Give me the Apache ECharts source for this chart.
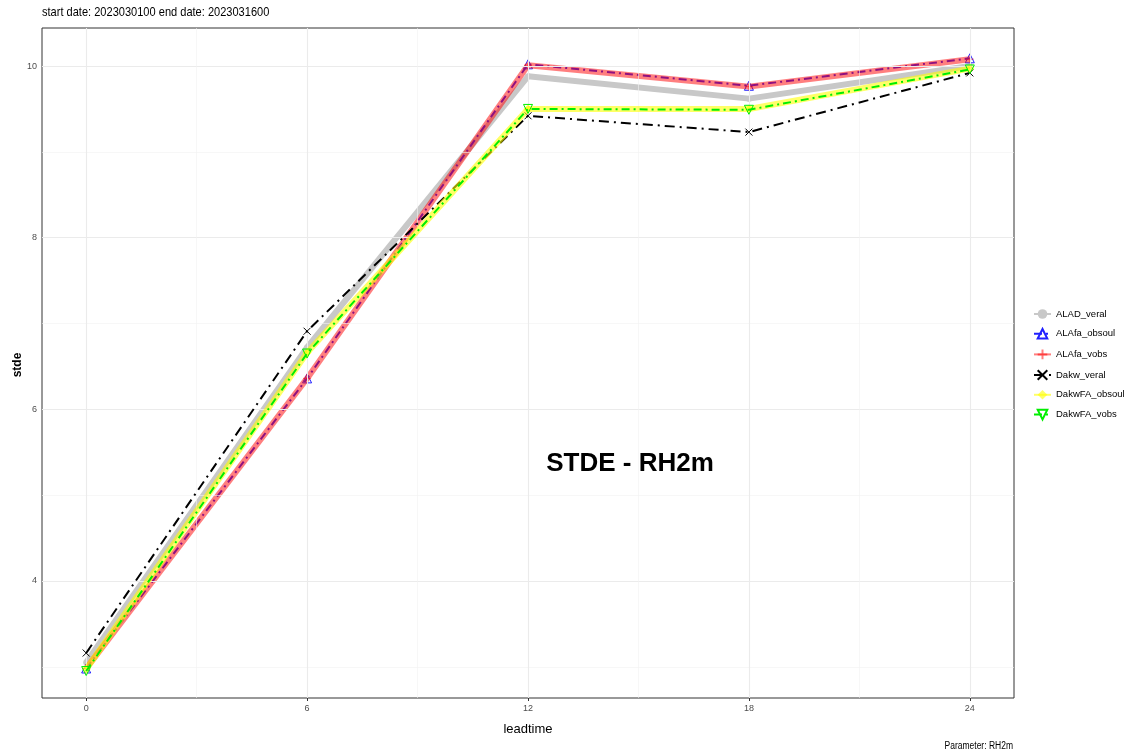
<!DOCTYPE html>
<html><head><meta charset="utf-8">
<script src="https://cdn.jsdelivr.net/npm/echarts@6/dist/echarts.min.js"></script>
<style>html,body{margin:0;padding:0;background:#fff}#c{width:1128px;height:754px}</style>
</head><body><div id="c"></div>
<script>
const leadtimes = [0, 6, 12, 18, 24];
const ALAD_veral    = [3.05, 6.72, 9.88, 9.62, 10.00];
const ALAfa_obsoul  = [2.98, 6.36, 10.02, 9.77, 10.09];
const ALAfa_vobs    = [2.98, 6.36, 10.01, 9.76, 10.08];
const Dakw_veral    = [3.16, 6.91, 9.42, 9.23, 9.92];
const DakwFA_obsoul = [2.97, 6.66, 9.50, 9.50, 9.97];
const DakwFA_vobs   = [2.95, 6.65, 9.50, 9.49, 9.96];
const xTicks = [0, 6, 12, 18, 24];
const yTicks = [4, 6, 8, 10];
const xMinor = [3, 9, 15, 21];
const yMinor = [3, 5, 7, 9];
const subtitle = 'start date: 2023030100 end date: 2023031600';
const plotTitle = 'STDE - RH2m';
const caption = 'Parameter: RH2m';
const yName = 'stde';

const FONT = '"Liberation Sans",Arial,sans-serif';
const pts = a => leadtimes.map((x, i) => [x, a[i]]);
const crossPath = 'path://M0,0L10,10M10,0L0,10';
const plusPath = 'path://M5,0L5,10M0,5L10,5';

const gridLines = [];
yTicks.forEach(v => gridLines.push({yAxis: v, lineStyle: {color: '#ebebeb', width: 1.1, type: 'solid'}}));
yMinor.forEach(v => gridLines.push({yAxis: v, lineStyle: {color: '#f2f2f2', width: 0.6, type: 'solid'}}));
xTicks.forEach(v => gridLines.push({xAxis: v, lineStyle: {color: '#ebebeb', width: 1.1, type: 'solid'}}));
xMinor.forEach(v => gridLines.push({xAxis: v, lineStyle: {color: '#f2f2f2', width: 0.6, type: 'solid'}}));

const chart = echarts.init(document.getElementById('c'), null, {renderer: 'canvas'});
chart.setOption({
  animation: false,
  backgroundColor: '#fff',
  textStyle: {fontFamily: FONT},
  grid: {left: 42, right: 114, top: 28, bottom: 56, containLabel: false, outerBoundsMode: 'none',
         show: true, borderColor: '#333', borderWidth: 1, backgroundColor: '#fff'},
  xAxis: {
    type: 'value', min: -1.2, max: 25.2,
    name: 'leadtime', nameLocation: 'middle', nameGap: 25,
    nameTextStyle: {fontFamily: FONT, fontSize: 13, color: '#000'},
    axisLine: {show: false},
    axisTick: {show: true, customValues: xTicks, length: 3, lineStyle: {color: '#333'}},
    axisLabel: {customValues: xTicks, fontFamily: FONT, fontSize: 9, color: '#4d4d4d', margin: 6},
    splitLine: {show: false}
  },
  yAxis: {
    type: 'value', min: 2.636, max: 10.443,
    axisLine: {show: false},
    axisTick: {show: true, customValues: yTicks, length: 3, lineStyle: {color: '#333'}},
    axisLabel: {customValues: yTicks, fontFamily: FONT, fontSize: 9, color: '#4d4d4d', margin: 5},
    splitLine: {show: false}
  },
  legend: {
    orient: 'vertical', left: 1028, top: 304, itemGap: 9, itemWidth: 17, itemHeight: 12,
    textStyle: {fontFamily: FONT, fontSize: 9.5, color: '#000'},
    data: ['ALAD_veral', 'ALAfa_obsoul', 'ALAfa_vobs', 'Dakw_veral', 'DakwFA_obsoul', 'DakwFA_vobs']
  },
  graphic: [
    {type: 'text', left: 42, top: 6, scaleX: 0.85, style: {text: subtitle, font: '13px ' + FONT, fill: '#000'}},
    {type: 'text', x: 1013, y: 741, scaleX: 0.85, style: {text: caption, font: '10px ' + FONT, fill: '#000', align: 'right'}},
    {type: 'text', x: 18, y: 365, rotation: Math.PI / 2, style: {text: yName, font: 'bold 12px ' + FONT, fill: '#000', align: 'center', verticalAlign: 'middle'}},
    {type: 'text', x: 630, y: 464, style: {text: plotTitle, font: 'bold 26px "Liberation Sans",Arial,sans-serif', fill: '#000', align: 'center', verticalAlign: 'middle'}}
  ],
  series: [
    {type: 'line', name: '_grid', data: [], silent: true, z: 1,
     markLine: {silent: true, symbol: 'none', label: {show: false}, animation: false, data: gridLines}},
    {type: 'line', name: 'ALAD_veral', data: pts(ALAD_veral), z: 2,
     lineStyle: {color: '#c8c8c8', width: 6}, symbol: 'circle', symbolSize: 6,
     itemStyle: {color: '#c8c8c8'}},
    {type: 'line', name: 'ALAfa_obsoul', data: pts(ALAfa_obsoul), z: 3,
     lineStyle: {color: '#2020ff', width: 2, type: [8, 4, 2, 4]}, symbol: 'triangle', symbolSize: 9,
     itemStyle: {color: 'rgba(0,0,0,0)', borderColor: '#2020ff', borderWidth: 1}},
    {type: 'line', name: 'ALAfa_vobs', data: pts(ALAfa_vobs), z: 4,
     lineStyle: {color: 'rgba(255,0,0,0.5)', width: 6}, symbol: plusPath, symbolSize: 8,
     itemStyle: {color: 'rgba(0,0,0,0)', borderColor: 'rgba(255,0,0,0.5)', borderWidth: 1}},
    {type: 'line', name: 'Dakw_veral', data: pts(Dakw_veral), z: 5,
     lineStyle: {color: '#000', width: 2, type: [10, 5, 2, 5]}, symbol: crossPath, symbolSize: 7,
     itemStyle: {color: 'rgba(0,0,0,0)', borderColor: '#000', borderWidth: 1}},
    {type: 'line', name: 'DakwFA_obsoul', data: pts(DakwFA_obsoul), z: 6,
     lineStyle: {color: 'rgba(255,255,0,0.6)', width: 6}, symbol: 'diamond', symbolSize: 9,
     itemStyle: {color: 'rgba(255,255,0,0.6)'}},
    {type: 'line', name: 'DakwFA_vobs', data: pts(DakwFA_vobs), z: 7,
     lineStyle: {color: '#00ee00', width: 2, type: [8, 4, 2, 4]}, symbol: 'triangle', symbolRotate: 180, symbolSize: 9,
     itemStyle: {color: 'rgba(0,0,0,0)', borderColor: '#00ee00', borderWidth: 1}}
  ]
});
</script></body></html>
